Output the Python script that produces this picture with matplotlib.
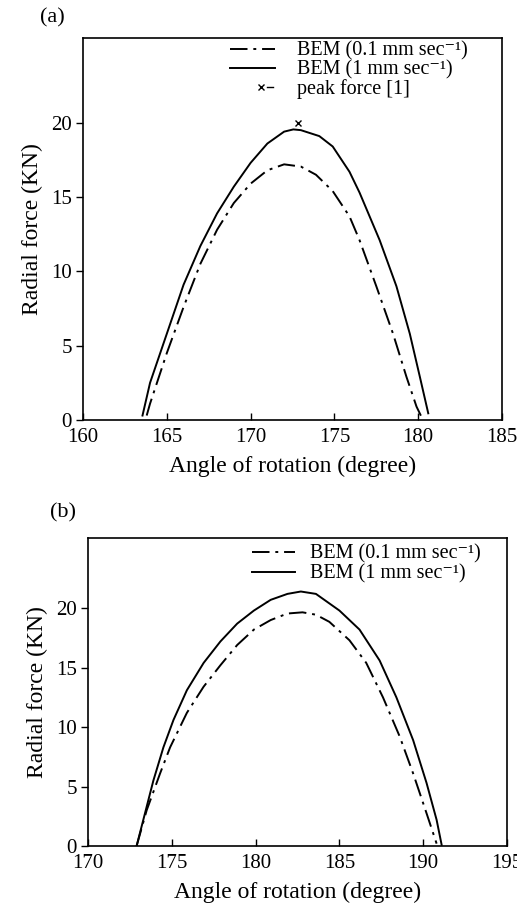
import matplotlib
matplotlib.use("Agg")
import matplotlib.pyplot as plt
from matplotlib.lines import Line2D

plt.rcParams['font.family'] = ['Liberation Serif', 'DejaVu Serif']

# Panel (a) data
a_solid_x = [163.55, 164.0, 165.0, 166.0, 167.0, 168.0, 169.0, 170.0, 171.0, 172.0, 172.55,
             173.0, 174.1, 174.9, 175.9, 176.5, 177.7, 178.7, 179.5, 180.1, 180.6]
a_solid_y = [0.3, 2.5, 5.8, 9.1, 11.7, 13.9, 15.7, 17.3, 18.6, 19.4, 19.55,
             19.5, 19.1, 18.4, 16.7, 15.3, 12.1, 9.0, 5.8, 2.9, 0.45]
a_dash_x = [163.8, 164.0, 165.0, 166.0, 167.0, 168.0, 169.0, 170.0, 171.0, 172.0, 173.0,
            173.9, 174.9, 175.9, 176.5, 177.5, 178.5, 179.3, 179.9, 180.2]
a_dash_y = [0.3, 1.1, 4.5, 7.6, 10.5, 12.8, 14.6, 15.9, 16.8, 17.2, 17.05,
            16.5, 15.4, 13.7, 12.1, 9.0, 5.8, 2.9, 0.9, 0.2]
a_peak_x = [172.8]
a_peak_y = [20.0]

# Panel (b) data
b_solid_x = [172.9, 173.5, 173.9, 174.5, 175.1, 175.9, 176.9, 177.9, 178.9, 179.9, 180.9,
             181.9, 182.7, 183.6, 185.0, 186.2, 187.4, 188.4, 189.4, 190.2, 190.8, 191.1]
b_solid_y = [0.0, 3.3, 5.5, 8.3, 10.6, 13.1, 15.4, 17.2, 18.7, 19.8, 20.7,
             21.2, 21.4, 21.2, 19.8, 18.2, 15.6, 12.5, 8.9, 5.3, 2.2, 0.1]
b_dash_x = [172.9, 173.5, 174.3, 174.9, 175.9, 176.9, 177.9, 178.9, 179.9, 180.9, 181.9,
            182.8, 183.6, 184.4, 185.6, 186.6, 187.6, 188.6, 189.4, 190.2, 190.8]
b_dash_y = [0.0, 3.0, 6.1, 8.3, 11.2, 13.4, 15.2, 16.9, 18.2, 19.0, 19.55,
            19.65, 19.45, 18.85, 17.3, 15.4, 12.5, 9.2, 6.1, 2.75, 0.2]

a_xticks = [160, 165, 170, 175, 180, 185]
b_xticks = [170, 175, 180, 185, 190, 195]
yticks = [0, 5, 10, 15, 20]

lab_slow = 'BEM (0.1 mm sec\u207b\u00b9)'
lab_fast = 'BEM (1 mm sec\u207b\u00b9)'
lab_peak = 'peak force [1]'

W, H = 517, 906
fig = plt.figure(figsize=(W / 100, H / 100), dpi=100)

def box(l, t, r, b):
    return [l / W, 1 - b / H, (r - l) / W, (b - t) / H]

def fx(px):
    return px / W

def fy(py):
    return 1 - py / H

ax1 = fig.add_axes(box(83, 38, 502, 420))
ax2 = fig.add_axes(box(88, 538, 507, 846))

dashdot = (0, (9, 3, 1.5, 3))
lw = 1.4

def style(ax, xticks, xlim, ylim):
    ax.set_xlim(*xlim)
    ax.set_ylim(*ylim)
    ax.set_xticks(xticks)
    ax.set_yticks(yticks)
    ax.tick_params(axis='x', direction='in', length=5, width=1, labelsize=15, pad=6)
    ax.tick_params(axis='y', direction='out', length=5, width=1, labelsize=15, pad=3)
    for s in ax.spines.values():
        s.set_linewidth(1.2)
    ax.set_xlabel('Angle of rotation (degree)', fontsize=17, labelpad=6)
    ax.set_ylabel('Radial force (KN)', fontsize=17, labelpad=6)

ax1.plot(a_dash_x, a_dash_y, color='black', lw=lw, linestyle=dashdot)
ax1.plot(a_solid_x, a_solid_y, color='black', lw=lw)
ax1.plot(a_peak_x, a_peak_y, linestyle='none', marker='x', color='black', ms=5, mew=1)
style(ax1, a_xticks, (160, 185), (0, 25.7))

ax2.plot(b_dash_x, b_dash_y, color='black', lw=lw, linestyle=dashdot)
ax2.plot(b_solid_x, b_solid_y, color='black', lw=lw)
style(ax2, b_xticks, (170, 195), (0, 25.9))

LEG_FS = 14.5

def handle(x0, x1, y, ls):
    fig.add_artist(Line2D([fx(x0), fx(x1)], [fy(y), fy(y)], transform=fig.transFigure,
                          color='black', lw=lw, linestyle=ls))

# legend (a): rows at y = 49, 68, 87 px
handle(230, 275, 49, dashdot)
handle(230, 275, 68, '-')
fig.add_artist(Line2D([fx(261)], [fy(87)], transform=fig.transFigure, marker='x',
                      color='black', ms=5, mew=1, linestyle='none'))
fig.add_artist(Line2D([fx(267), fx(273)], [fy(87), fy(87)], transform=fig.transFigure,
                      color='black', lw=1.0))
fig.text(fx(297), fy(70), '\n'.join([lab_slow, lab_fast, lab_peak]), fontsize=LEG_FS,
         va='center', ha='left', linespacing=0.97)

# legend (b): rows at y = 552, 572 px
handle(252, 295, 552, dashdot)
handle(252, 295, 572, '-')
fig.text(fx(310), fy(564), '\n'.join([lab_slow, lab_fast]), fontsize=LEG_FS,
         va='center', ha='left', linespacing=1.05)

fig.text(40 / W, 1 - 18 / H, '(a)', fontsize=16, va='center', ha='left')
fig.text(50 / W, 1 - 513 / H, '(b)', fontsize=16, va='center', ha='left')

fig.savefig('out.png', dpi=100)
